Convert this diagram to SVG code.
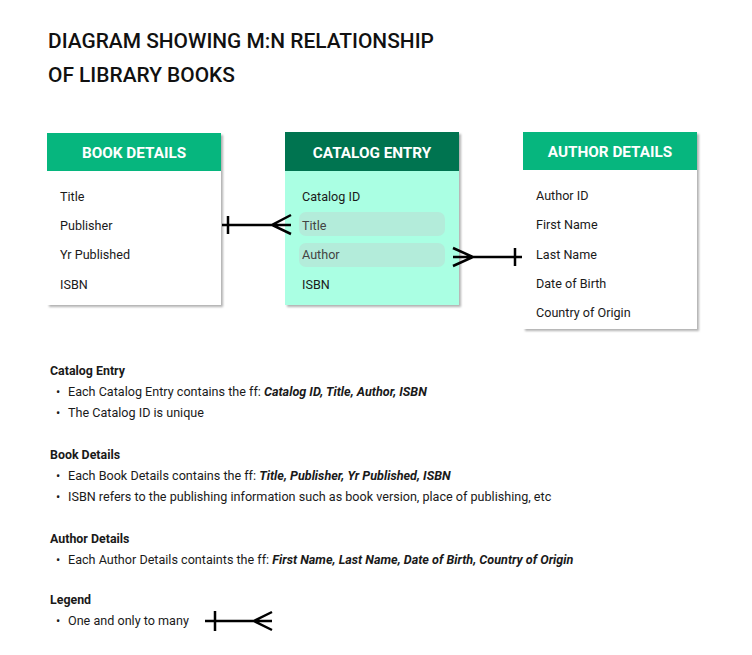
<svg xmlns="http://www.w3.org/2000/svg" width="752" height="655" viewBox="0 0 752 655">
<style>
text{font-family:Roboto,"Liberation Sans",sans-serif;fill:#1a1a1a}
.title{font-size:20.9px;font-weight:500;fill:#111}
.hdr{font-size:15.3px;font-weight:700;fill:#fff;text-anchor:middle}
.item{font-size:12.6px}
.dim{fill:#444}
.h{font-size:12.4px;font-weight:700}
.n{font-size:12.6px}
.b{font-weight:700;font-style:italic}
.ln{stroke:#000;stroke-width:2.5;fill:none}
</style>
<defs>
<filter id="sh" x="-10%" y="-10%" width="125%" height="125%">
<feDropShadow dx="2" dy="2" stdDeviation="1.2" flood-color="#000" flood-opacity="0.3"/>
</filter>
</defs>
<rect width="752" height="655" fill="#fff"/>
<text class="title" x="48" y="48">DIAGRAM SHOWING M:N RELATIONSHIP</text>
<text class="title" x="48" y="82">OF LIBRARY BOOKS</text>

<g id="book-details">
<rect x="47" y="133" width="174" height="172" fill="#fff" filter="url(#sh)"/>
<rect x="47" y="133" width="174" height="38" fill="#06b67e"/>
<text class="hdr" x="134" y="158">BOOK DETAILS</text>
<text class="item" x="60" y="201">Title</text>
<text class="item" x="60" y="230">Publisher</text>
<text class="item" x="60" y="259">Yr Published</text>
<text class="item" x="60" y="289">ISBN</text>
</g>

<g id="catalog-entry">
<rect x="285" y="132" width="174" height="173" fill="#aaffe3" filter="url(#sh)"/>
<rect x="285" y="132" width="174" height="39" fill="#007450"/>
<text class="hdr" x="372" y="158">CATALOG ENTRY</text>
<rect x="299" y="212" width="146" height="24" rx="7" fill="#b3ecda"/>
<rect x="299" y="243" width="146" height="24" rx="7" fill="#b3ecda"/>
<text class="item" x="302" y="201">Catalog ID</text>
<text class="item dim" x="302" y="230">Title</text>
<text class="item dim" x="302" y="259">Author</text>
<text class="item" x="302" y="289">ISBN</text>
</g>

<g id="author-details">
<rect x="523" y="132" width="174" height="197" fill="#fff" filter="url(#sh)"/>
<rect x="523" y="132" width="174" height="38" fill="#06b67e"/>
<text class="hdr" x="610" y="157">AUTHOR DETAILS</text>
<text class="item" x="536" y="200">Author ID</text>
<text class="item" x="536" y="229">First Name</text>
<text class="item" x="536" y="259">Last Name</text>
<text class="item" x="536" y="288">Date of Birth</text>
<text class="item" x="536" y="317">Country of Origin</text>
</g>

<g id="connectors">
<path class="ln" d="M222 225H291M228 216V234M291 215L272 225L291 234"/>
<path class="ln" d="M453 257H522M515 248V266M453 248L473 257L453 266"/>
<path class="ln" d="M205 621H272M215 611V631M272 612L254 621L272 630"/>
</g>

<g id="notes">
<text class="h" x="50" y="375">Catalog Entry</text>
<text class="n" x="56" y="396">•</text>
<text class="n" x="68" y="396">Each Catalog Entry contains the ff: <tspan class="b">Catalog ID, Title, Author, ISBN</tspan></text>
<text class="n" x="56" y="417">•</text>
<text class="n" x="68" y="417">The Catalog ID is unique</text>

<text class="h" x="50" y="459">Book Details</text>
<text class="n" x="56" y="480">•</text>
<text class="n" x="68" y="480">Each Book Details contains the ff: <tspan class="b">Title, Publisher, Yr Published, ISBN</tspan></text>
<text class="n" x="56" y="501">•</text>
<text class="n" x="68" y="501">ISBN refers to the publishing information such as book version, place of publishing, etc</text>

<text class="h" x="50" y="543">Author Details</text>
<text class="n" x="56" y="564">•</text>
<text class="n" x="68" y="564">Each Author Details containts the ff: <tspan class="b">First Name, Last Name, Date of Birth, Country of Origin</tspan></text>

<text class="h" x="50" y="604">Legend</text>
<text class="n" x="56" y="625">•</text>
<text class="n" x="68" y="625">One and only to many</text>
</g>
</svg>
